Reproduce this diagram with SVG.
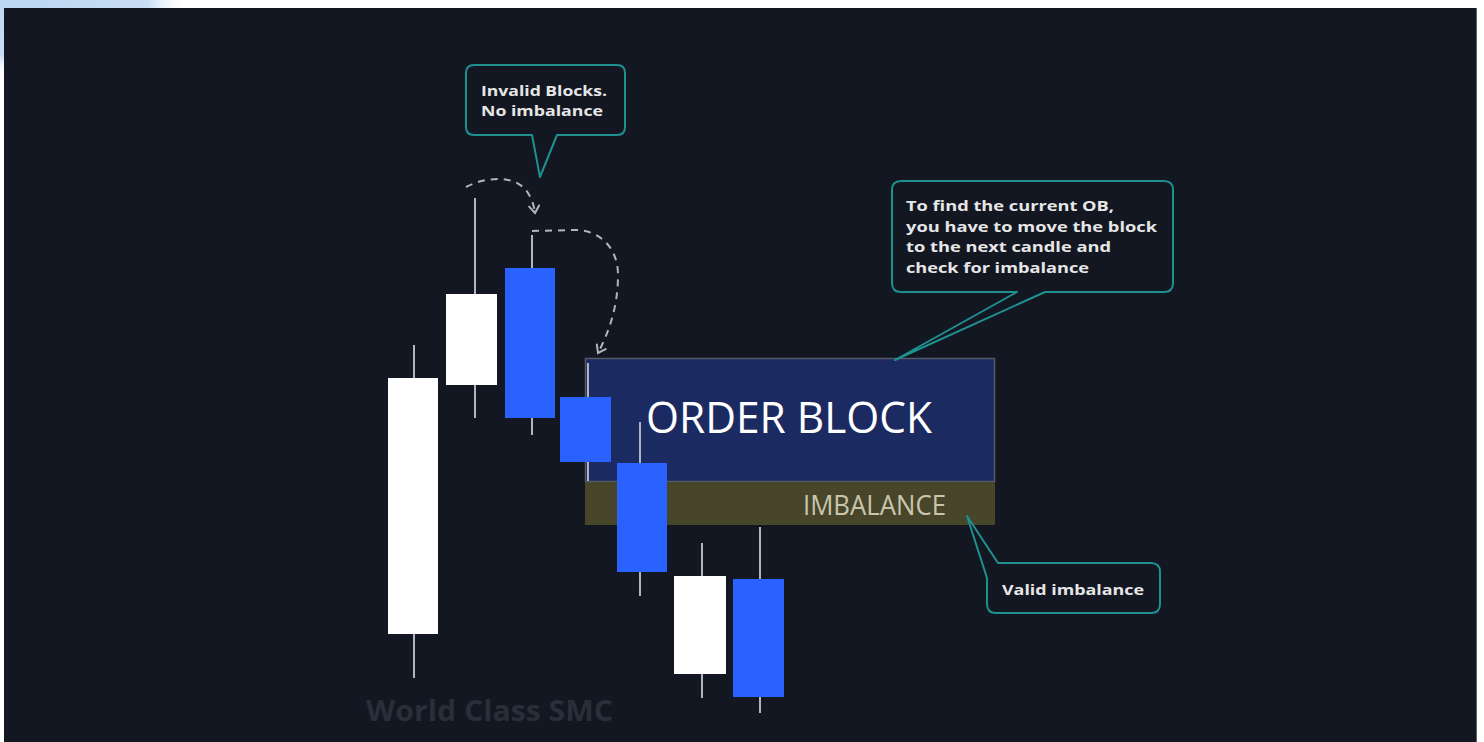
<svg xmlns="http://www.w3.org/2000/svg" width="1484" height="742" viewBox="0 0 1484 742">
<defs>
<radialGradient id="glow" cx="0" cy="0" r="1" gradientUnits="userSpaceOnUse" gradientTransform="translate(20,0) scale(170,75)">
<stop offset="0" stop-color="#bdd7f1"/>
<stop offset="0.75" stop-color="#c8def4"/>
<stop offset="1" stop-color="#ffffff" stop-opacity="0"/>
</radialGradient>
<marker id="chev" markerWidth="14" markerHeight="14" refX="9" refY="6" orient="auto" markerUnits="userSpaceOnUse">
<path d="M2,1 L9,6 L2,11" fill="none" stroke="#b2b5be" stroke-width="2" stroke-linecap="round"/>
</marker>
<style>
.wick{stroke:#b2b5be;stroke-width:2}
.bull{fill:#ffffff}
.bear{fill:#2962ff}
.callout{fill:#131722;stroke:#1f9090;stroke-width:2;stroke-linejoin:round}
.ctext{font-family:"Open Sans","Noto Sans",sans-serif;font-weight:700;font-size:15px;fill:#e6e6e6}
.dash{fill:none;stroke:#b2b5be;stroke-width:2;stroke-dasharray:7,6}
</style>
</defs>
<rect x="0" y="0" width="1484" height="742" fill="#ffffff"/>
<rect x="0" y="0" width="260" height="120" fill="url(#glow)"/>
<rect x="4" y="8" width="1472" height="734" fill="#131722"/>
<line x1="1476.5" y1="8" x2="1476.5" y2="742" stroke="#5d606b" stroke-width="1"/>

<g id="order-block">
<rect x="585.5" y="358.5" width="409" height="123" fill="#1b2a60" stroke="#555a68" stroke-width="1.5"/>
<text x="646" y="433" font-family="Open Sans,Noto Sans,sans-serif" font-weight="500" font-size="44" fill="#ffffff" textLength="286" lengthAdjust="spacingAndGlyphs">ORDER BLOCK</text>
</g>
<g id="imbalance">
<rect x="585" y="482" width="410" height="43" fill="#47452a"/>
<text x="803" y="515" font-family="Open Sans,Noto Sans,sans-serif" font-weight="500" font-size="27" fill="#c9c5ad" textLength="143" lengthAdjust="spacingAndGlyphs">IMBALANCE</text>
</g>

<g id="candle-1"><line class="wick" x1="414" y1="345" x2="414" y2="678"/><rect class="bull" x="388" y="378" width="50" height="256"/></g>
<g id="candle-2"><line class="wick" x1="475" y1="198" x2="475" y2="418"/><rect class="bull" x="446" y="294" width="51" height="91"/></g>
<g id="candle-3"><line class="wick" x1="532" y1="235" x2="532" y2="435"/><rect class="bear" x="505" y="268" width="50" height="150"/></g>
<g id="candle-4"><line class="wick" x1="588" y1="363" x2="588" y2="481"/><rect class="bear" x="560" y="397" width="51" height="65"/></g>
<g id="candle-5"><line class="wick" x1="640" y1="422" x2="640" y2="596"/><rect class="bear" x="617" y="463" width="50" height="109"/></g>
<g id="candle-6"><line class="wick" x1="702" y1="543" x2="702" y2="698"/><rect class="bull" x="674" y="576" width="52" height="98"/></g>
<g id="candle-7"><line class="wick" x1="760" y1="527" x2="760" y2="713"/><rect class="bear" x="733" y="579" width="51" height="118"/></g>

<g id="connectors">
<path class="dash" d="M466,187 C485,177 512,175 525,189 C531,196 534,205 535,213" marker-end="url(#chev)"/>
<path class="dash" d="M532,231 L575,230 C600,230 618,248 618,275 C618,305 610,330 598,353" marker-end="url(#chev)"/>
</g>

<g id="callout-invalid">
<path class="callout" d="M474,65 H617 Q625,65 625,73 V127 Q625,135 617,135 H557 L540,177 L532,135 H474 Q466,135 466,127 V73 Q466,65 474,65 Z"/>
<text class="ctext" x="481" y="96" textLength="126" lengthAdjust="spacingAndGlyphs">Invalid Blocks.</text>
<text class="ctext" x="481" y="116" textLength="122" lengthAdjust="spacingAndGlyphs">No imbalance</text>
</g>

<g id="callout-current-ob">
<path class="callout" d="M901,181 H1164 Q1173,181 1173,190 V283 Q1173,292 1164,292 H1045 L895,360 L1017,292 H901 Q892,292 892,283 V190 Q892,181 901,181 Z"/>
<text class="ctext" x="906" y="211" textLength="208" lengthAdjust="spacingAndGlyphs">To find the current OB,</text>
<text class="ctext" x="906" y="232" textLength="251" lengthAdjust="spacingAndGlyphs">you have to move the block</text>
<text class="ctext" x="906" y="252" textLength="205" lengthAdjust="spacingAndGlyphs">to the next candle and</text>
<text class="ctext" x="906" y="273" textLength="183" lengthAdjust="spacingAndGlyphs">check for imbalance</text>
</g>

<g id="callout-valid">
<path class="callout" d="M998,563 H1151 Q1160,563 1160,572 V604 Q1160,613 1151,613 H996 Q987,613 987,604 V578 L967,516 Z"/>
<text class="ctext" x="1002" y="595" textLength="142" lengthAdjust="spacingAndGlyphs">Valid imbalance</text>
</g>

<text id="watermark" x="366" y="721" font-family="Open Sans,Noto Sans,sans-serif" font-weight="700" font-size="29" fill="#2a2e39" textLength="247" lengthAdjust="spacingAndGlyphs">World Class SMC</text>
</svg>
